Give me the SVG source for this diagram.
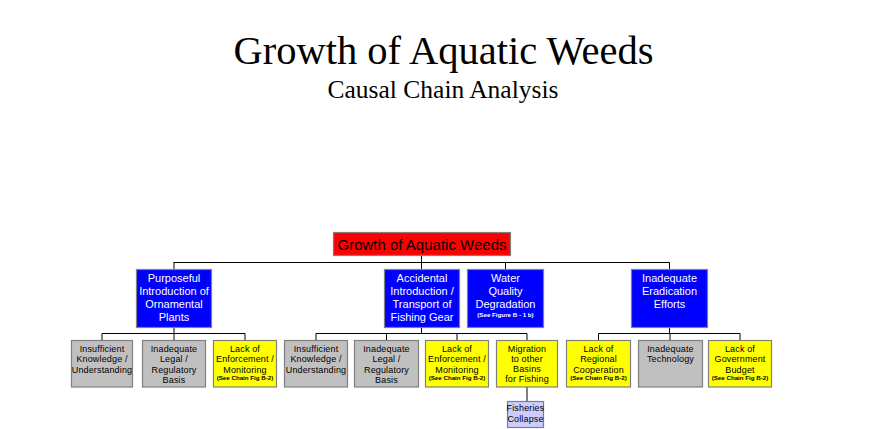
<svg xmlns="http://www.w3.org/2000/svg" width="888" height="429" viewBox="0 0 888 429">
<style>
.bx{stroke:#808080;stroke-width:1.2}
.red{fill:#ff0000}.blue{fill:#0000ff}.gray{fill:#c0c0c0}.yel{fill:#ffff00}.lav{fill:#ccccff}
text{font-family:"Liberation Sans",Arial,sans-serif;text-anchor:middle}
.t2{font-size:11px;fill:#ffffff}
.t3{font-size:9px;fill:#000000;letter-spacing:0.15px}
.nt{font-size:6.2px;font-weight:bold;letter-spacing:0}
.ttl{font-family:"Liberation Serif","Times New Roman",serif}
#connectors line{stroke:#000000;stroke-width:1}
</style>
<rect width="888" height="429" fill="#ffffff"/>
<text class="ttl" x="443.5" y="64" font-size="40.5">Growth of Aquatic Weeds</text>
<text class="ttl" x="443" y="98" font-size="25.5">Causal Chain Analysis</text>
<g id="connectors">
<line x1="421.5" y1="256" x2="421.5" y2="262.5"/>
<line x1="173.5" y1="262.5" x2="669.5" y2="262.5"/>
<line x1="174" y1="262.5" x2="174" y2="269"/>
<line x1="421.5" y1="262.5" x2="421.5" y2="269"/>
<line x1="505.5" y1="262.5" x2="505.5" y2="269"/>
<line x1="669.5" y1="262.5" x2="669.5" y2="269"/>
<line x1="174" y1="327.5" x2="174" y2="333.5"/>
<line x1="102" y1="333.5" x2="245" y2="333.5"/>
<line x1="102" y1="333.5" x2="102" y2="340"/>
<line x1="174" y1="333.5" x2="174" y2="340"/>
<line x1="245" y1="333.5" x2="245" y2="340"/>
<line x1="421.5" y1="327.5" x2="421.5" y2="333.5"/>
<line x1="316" y1="333.5" x2="527" y2="333.5"/>
<line x1="316" y1="333.5" x2="316" y2="340"/>
<line x1="386.5" y1="333.5" x2="386.5" y2="340"/>
<line x1="457" y1="333.5" x2="457" y2="340"/>
<line x1="527" y1="333.5" x2="527" y2="340"/>
<line x1="527" y1="387" x2="527" y2="401"/>
<line x1="669.5" y1="327.5" x2="669.5" y2="333.5"/>
<line x1="598.5" y1="333.5" x2="740" y2="333.5"/>
<line x1="598.5" y1="333.5" x2="598.5" y2="340"/>
<line x1="670" y1="333.5" x2="670" y2="340"/>
<line x1="740" y1="333.5" x2="740" y2="340"/>
</g>
<g id="n-root"><rect class="bx red" x="333.5" y="232.5" width="177" height="23"/><text x="422" y="249.5" font-size="15">Growth of Aquatic Weeds</text></g>
<g id="n-purposeful"><rect class="bx blue" x="136.5" y="269.5" width="75" height="58"/>
<text class="t2" x="174" y="282">Purposeful</text><text class="t2" x="174" y="295">Introduction of</text><text class="t2" x="174" y="308">Ornamental</text><text class="t2" x="174" y="321">Plants</text></g>
<g id="n-accidental"><rect class="bx blue" x="384.5" y="269.5" width="75" height="58"/>
<text class="t2" x="422" y="282">Accidental</text><text class="t2" x="422" y="295">Introduction /</text><text class="t2" x="422" y="308">Transport of</text><text class="t2" x="422" y="321">Fishing Gear</text></g>
<g id="n-water"><rect class="bx blue" x="467.5" y="269.5" width="76" height="58"/>
<text class="t2" x="505.5" y="282">Water</text><text class="t2" x="505.5" y="295">Quality</text><text class="t2" x="505.5" y="308">Degradation</text><text class="t2 nt" x="505.5" y="317">(See Figure B - 1 b)</text></g>
<g id="n-eradication"><rect class="bx blue" x="631.5" y="269.5" width="76" height="58"/>
<text class="t2" x="669.5" y="282">Inadequate</text><text class="t2" x="669.5" y="295">Eradication</text><text class="t2" x="669.5" y="308">Efforts</text></g>
<g id="n-know1"><rect class="bx gray" x="71.5" y="340.5" width="61" height="46.5"/>
<text class="t3" x="102" y="351.5">Insufficient</text><text class="t3" x="102" y="362">Knowledge /</text><text class="t3" x="102" y="372.5">Understanding</text></g>
<g id="n-legal1"><rect class="bx gray" x="142.5" y="340.5" width="63" height="46.5"/>
<text class="t3" x="174" y="351.5">Inadequate</text><text class="t3" x="174" y="362">Legal /</text><text class="t3" x="174" y="372.5">Regulatory</text><text class="t3" x="174" y="383">Basis</text></g>
<g id="n-enf1"><rect class="bx yel" x="213.5" y="340.5" width="63" height="46.5"/>
<text class="t3" x="245" y="351.5">Lack of</text><text class="t3" x="245" y="362">Enforcement /</text><text class="t3" x="245" y="372.5">Monitoring</text><text class="t3 nt" x="245" y="379.5">(See Chain Fig B-2)</text></g>
<g id="n-know2"><rect class="bx gray" x="284.5" y="340.5" width="63" height="46.5"/>
<text class="t3" x="316" y="351.5">Insufficient</text><text class="t3" x="316" y="362">Knowledge /</text><text class="t3" x="316" y="372.5">Understanding</text></g>
<g id="n-legal2"><rect class="bx gray" x="354.5" y="340.5" width="64" height="46.5"/>
<text class="t3" x="386.5" y="351.5">Inadequate</text><text class="t3" x="386.5" y="362">Legal /</text><text class="t3" x="386.5" y="372.5">Regulatory</text><text class="t3" x="386.5" y="383">Basis</text></g>
<g id="n-enf2"><rect class="bx yel" x="425.5" y="340.5" width="63" height="46.5"/>
<text class="t3" x="457" y="351.5">Lack of</text><text class="t3" x="457" y="362">Enforcement /</text><text class="t3" x="457" y="372.5">Monitoring</text><text class="t3 nt" x="457" y="379.5">(See Chain Fig B-2)</text></g>
<g id="n-migration"><rect class="bx yel" x="496.5" y="340.5" width="61" height="46.5"/>
<text class="t3" x="527" y="352">Migration</text><text class="t3" x="527" y="361.5">to other</text><text class="t3" x="527" y="371.5">Basins</text><text class="t3" x="527" y="382">for Fishing</text></g>
<g id="n-fisheries"><rect class="bx lav" x="507.5" y="401.5" width="36" height="26"/>
<text class="t3" x="525.5" y="411">Fisheries</text><text class="t3" x="525.5" y="422">Collapse</text></g>
<g id="n-regional"><rect class="bx yel" x="566.5" y="340.5" width="64" height="46.5"/>
<text class="t3" x="598.5" y="352">Lack of</text><text class="t3" x="598.5" y="362">Regional</text><text class="t3" x="598.5" y="372.5">Cooperation</text><text class="t3 nt" x="598.5" y="379.5">(See Chain Fig B-2)</text></g>
<g id="n-tech"><rect class="bx gray" x="638.5" y="340.5" width="64" height="46.5"/>
<text class="t3" x="670.5" y="351.5">Inadequate</text><text class="t3" x="670.5" y="362">Technology</text></g>
<g id="n-budget"><rect class="bx yel" x="708.5" y="340.5" width="63" height="46.5"/>
<text class="t3" x="740" y="352">Lack of</text><text class="t3" x="740" y="362">Government</text><text class="t3" x="740" y="372.5">Budget</text><text class="t3 nt" x="740" y="379.5">(See Chain Fig B-2)</text></g>
</svg>
